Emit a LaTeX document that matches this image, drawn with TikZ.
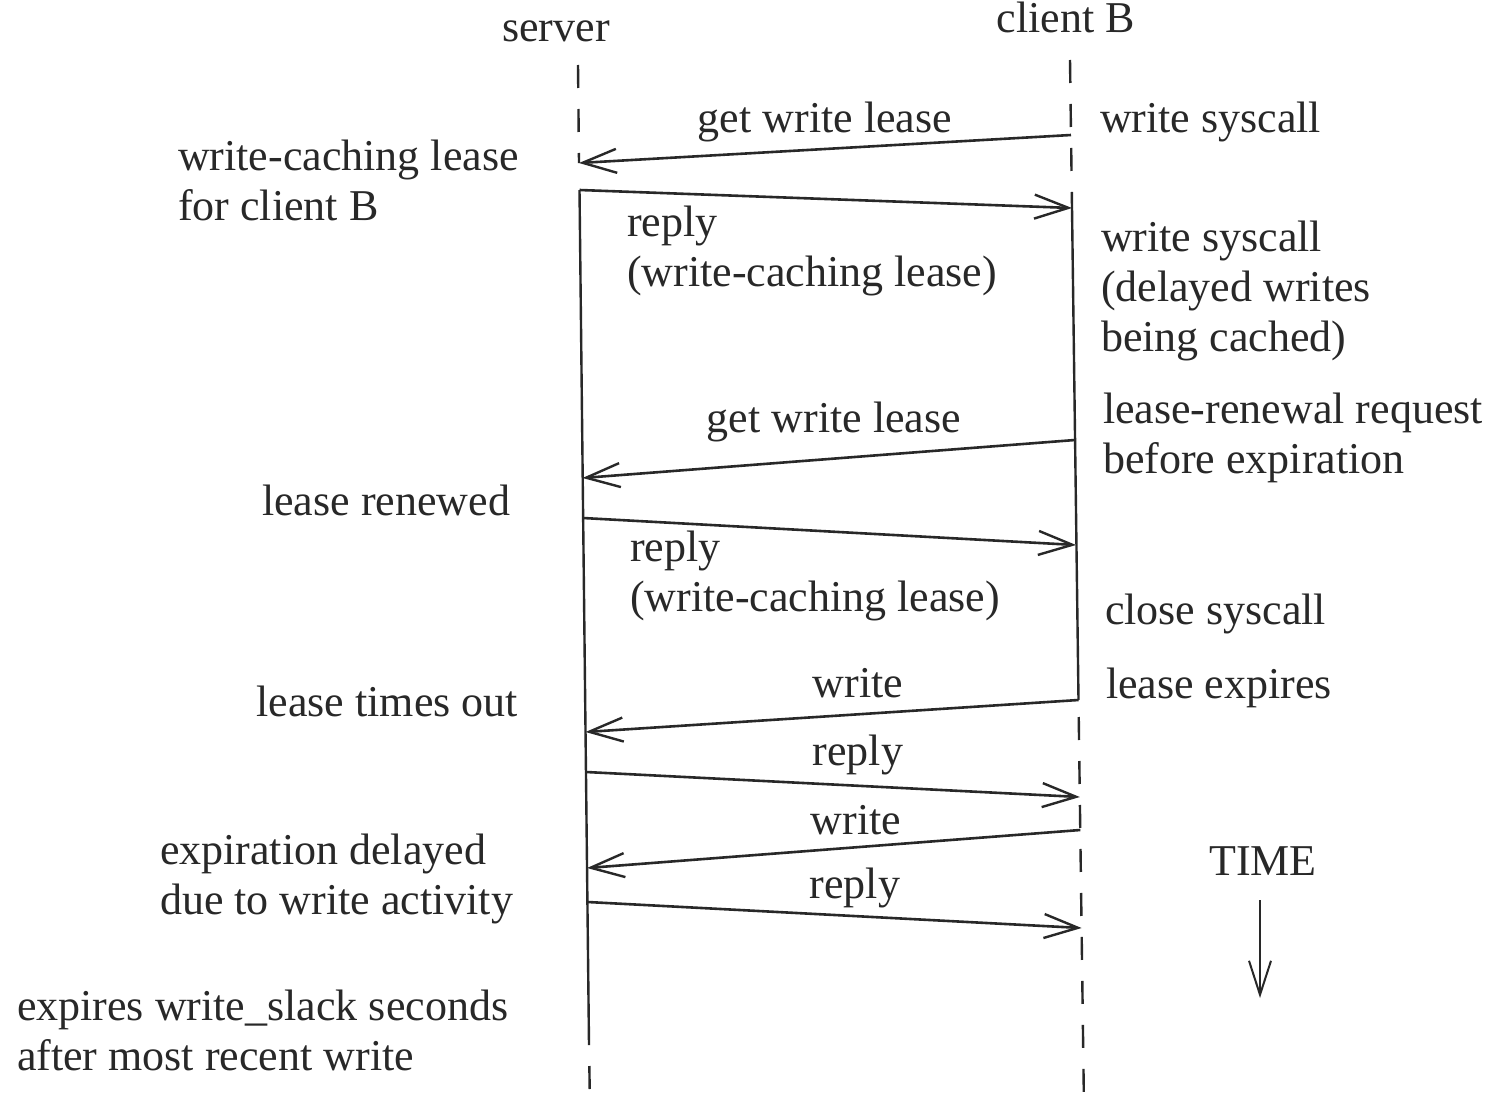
\documentclass[tikz,border=0pt]{standalone}
\usepackage{fontspec}
\setmainfont{Liberation Serif}
\usetikzlibrary{arrows.meta}
\definecolor{ink}{RGB}{40,40,40}
\begin{document}
\begin{tikzpicture}[x=1pt,y=-1pt,
  lbl/.style={inner sep=0pt, outer sep=0pt, text=ink, font=\fontsize{44}{50}\selectfont},
  msg/.style={draw=ink, line width=2.6pt, -{Straight Barb[length=34pt,width=24pt,line width=2.4pt]}},
  life/.style={draw=ink, line width=2.4pt},
  lifedash/.style={life, dash pattern=on 23pt off 21pt}]
\useasboundingbox (0,0) rectangle (1499,1108);
\fill[white] (0,0) rectangle (1499,1108);

% lifeline coordinates (server)
\coordinate (st) at (578,65);
\coordinate (sa) at (579,163);
\coordinate (sb) at (579.5,190);
\coordinate (sc) at (582.5,478);
\coordinate (sd) at (583,518);
\coordinate (se) at (585.5,732);
\coordinate (sf) at (586,772);
\coordinate (sg) at (587,868);
\coordinate (sh) at (587.5,902);
\coordinate (send) at (589,1045);
\coordinate (sbot) at (590,1108);
% lifeline coordinates (client B)
\coordinate (ct) at (1070,60);
\coordinate (ca) at (1071,135);
\coordinate (cb) at (1072,208);
\coordinate (cc) at (1075,440);
\coordinate (cd) at (1076,545);
\coordinate (ce) at (1078.5,700);
\coordinate (cf) at (1079.8,797);
\coordinate (cg) at (1080.3,830);
\coordinate (ch) at (1081.6,928);
\coordinate (cbot) at (1084,1108);

% lifelines
\draw[lifedash] (st) -- (sa);
\draw[life] (sb) -- (send);
\draw[lifedash, dash phase=23pt] (send) -- (sbot);
\draw[lifedash] (ct) -- (cb);
\draw[life] (cb) -- (ce);
\draw[lifedash, dash phase=-17pt] (ce) -- (cbot);

% headers
\node[lbl, anchor=base] (hs) at (556,42) {server};
\node[lbl, anchor=base] (hc) at (1066,33) {client B};

% messages
\draw[msg] (ca) -- (sa);
\draw[msg] (sb) -- (cb);
\draw[msg] (cc) -- (sc);
\draw[msg] (sd) -- (cd);
\draw[msg] (ce) -- (se);
\draw[msg] (sf) -- (cf);
\draw[msg] (cg) -- (sg);
\draw[msg] (sh) -- (ch);

% message labels (base anchor of a multi-line node = last line)
\node[lbl, anchor=base] (m1) at (825,132) {get write lease};
\node[lbl, anchor=base west, align=left] (m2) at (627,286) {reply\\(write-caching lease)};
\node[lbl, anchor=base] (m3) at (834,432) {get write lease};
\node[lbl, anchor=base west, align=left] (m4) at (630,611) {reply\\(write-caching lease)};
\node[lbl, anchor=base] (m5) at (858,697) {write};
\node[lbl, anchor=base] (m6) at (858,765) {reply};
\node[lbl, anchor=base] (m7) at (856,834) {write};
\node[lbl, anchor=base] (m8) at (855,898) {reply};

% server-side notes
\node[lbl, anchor=base west, align=left] (n1) at (178,220) {write-caching lease\\for client B};
\node[lbl, anchor=base east] (n2) at (510,515) {lease renewed};
\node[lbl, anchor=base east] (n3) at (518,716) {lease times out};
\node[lbl, anchor=base west, align=left] (n4) at (160,914) {expiration delayed\\due to write activity};
\node[lbl, anchor=base west, align=left] (n5) at (17,1070) {expires write\_slack seconds\\after most recent write};

% client-side notes
\node[lbl, anchor=base west] (r1) at (1100,132) {write syscall};
\node[lbl, anchor=base west, align=left] (r2) at (1101,351) {write syscall\\(delayed writes\\being cached)};
\node[lbl, anchor=base west, align=left] (r3) at (1103,473) {lease-renewal request\\before expiration};
\node[lbl, anchor=base west] (r4) at (1105,624) {close syscall};
\node[lbl, anchor=base west] (r5) at (1106,698) {lease expires};

% time arrow
\node[lbl, anchor=base] (time) at (1263,875) {TIME};
\coordinate (ta) at (1260,900);
\coordinate (tb) at (1260,998);
\draw[draw=ink, line width=2pt, -{Straight Barb[length=34pt,width=22pt,line width=2pt]}] (ta) -- (tb);
\end{tikzpicture}
\end{document}
